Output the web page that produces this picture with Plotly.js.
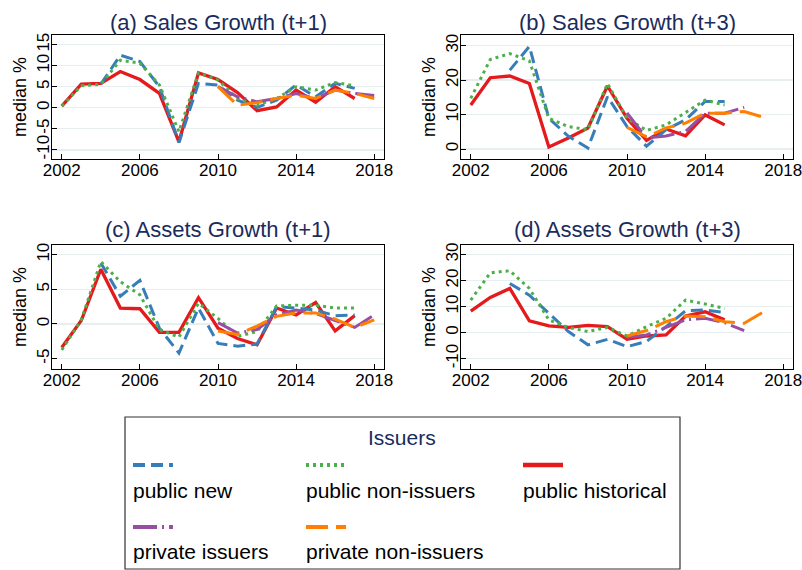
<!DOCTYPE html>
<html>
<head>
<meta charset="utf-8">
<script src="https://cdn.plot.ly/plotly-3.0.1.min.js"></script>
<style>html,body{margin:0;padding:0;background:#fff;}#chart{width:802px;height:570px;}</style>
</head>
<body>
<div id="chart"></div>
<script>
// ---------- DATA ----------
const years = [2002,2003,2004,2005,2006,2007,2008,2009,2010,2011,2012,2013,2014,2015,2016,2017,2018];

const seriesNames = ["public new","public non-issuers","public historical","private issuers","private non-issuers"];

// (a) Sales Growth (t+1)
const salesT1_publicNew       = [null,null,5.6,12.5,11.0,5.0,-8.3,5.8,5.4,1.8,0.1,1.8,5.4,2.6,5.8,4.6,null];
const salesT1_publicNonIss    = [0.4,5.2,5.6,11.3,10.6,5.4,-5.7,8.3,6.6,2.2,0.6,2.2,5.0,4.2,6.0,5.2,null];
const salesT1_publicHist      = [0.4,5.6,5.8,8.6,6.7,3.4,-8.1,8.3,6.7,3.6,-0.7,0.2,4.2,1.3,5.0,2.2,null];
const salesT1_privateIss      = [null,null,null,null,null,null,null,null,5.0,2.6,1.4,2.2,3.4,2.2,4.2,3.4,2.9];
const salesT1_privateNonIss   = [null,null,null,null,null,null,null,null,5.0,0.6,1.2,2.2,3.0,2.2,4.2,3.4,2.2];

// (b) Sales Growth (t+3)
const salesT3_publicNew       = [null,null,22.9,29.8,8.9,3.7,0.3,15.2,6.5,0.8,5.6,8.5,13.8,13.8,null,null,null];
const salesT3_publicNonIss    = [14.7,26.0,27.7,25.6,8.9,6.5,5.6,19.0,8.9,5.4,7.0,10.6,14.2,12.8,null,null,null];
const salesT3_publicHist      = [12.8,20.7,21.2,19.0,0.6,3.2,6.1,18.3,8.9,2.5,5.8,3.8,9.9,7.0,null,null,null];
const salesT3_privateIss      = [null,null,null,null,null,null,null,null,10.5,3.2,3.8,5.1,10.4,10.4,12.1,null,null];
const salesT3_privateNonIss   = [null,null,null,null,null,null,null,null,6.3,3.5,6.1,7.5,10.4,10.4,10.9,9.2,null];

// (c) Assets Growth (t+1)
const assetsT1_publicNew      = [null,null,8.8,4.0,6.3,-0.6,-4.2,2.3,-2.8,-3.2,-2.9,2.5,2.3,2.0,1.2,1.3,null];
const assetsT1_publicNonIss   = [-3.75,0.6,9.0,6.1,4.2,-0.8,-1.9,3.0,0.8,-1.8,-1.1,2.6,2.7,2.7,2.3,2.3,null];
const assetsT1_publicHist     = [-3.4,0.5,7.9,2.3,2.2,-1.2,-1.2,3.8,-0.6,-2.1,-3.0,2.3,1.3,3.1,-1.0,1.2,null];
const assetsT1_privateIss     = [null,null,null,null,null,null,null,null,0.2,-1.3,-0.8,1.3,2.0,1.5,0.5,-0.5,1.3];
const assetsT1_privateNonIss  = [null,null,null,null,null,null,null,null,-1.0,-1.5,-0.3,1.1,1.6,1.6,0.7,-0.5,0.6];

// (d) Assets Growth (t+3)
const assetsT3_publicNew      = [null,null,18.9,14.4,7.4,0.4,-4.7,-2.6,-5.4,-3.4,2.3,8.4,8.7,7.7,null,null,null];
const assetsT3_publicNonIss   = [12.5,23.0,23.8,17.0,4.9,2.0,0.4,2.0,-1.3,2.3,5.5,12.5,11.0,9.3,null,null,null];
const assetsT3_publicHist     = [8.3,13.5,17.0,4.5,2.6,2.0,2.8,2.3,-2.6,-1.3,-0.9,6.4,8.0,4.9,null,null,null];
const assetsT3_privateIss     = [null,null,null,null,null,null,null,null,-1.8,-0.9,2.0,4.9,5.5,3.8,0.8,null,null];
const assetsT3_privateNonIss  = [null,null,null,null,null,null,null,null,-1.3,0.8,4.2,6.4,6.1,4.2,3.6,8.0,null];

const panelTitles = ["(a) Sales Growth (t+1)","(b) Sales Growth (t+3)","(c) Assets Growth (t+1)","(d) Assets Growth (t+3)"];
const xTickVals = [2002,2006,2010,2014,2018];
const yTickVals = [[-10,-5,0,5,10,15],[0,10,20,30],[-5,0,5,10],[-10,0,10,20,30]];
const legendTitle = "Issuers";
const yAxisTitle = "median %";

// ---------- STYLE ----------
const W = 802, H = 570;
const colors = ["#377eb8","#4daf4a","#e41a1c","#984ea3","#ff7f00"];
const dashes = ["12px,6px","3px,4px","solid","24px,5px,2px,5px","22px,8px"];
const widths = [3,3,3.3,3,3];
const FONT = "Liberation Sans, Arial, Helvetica, sans-serif";
const NAVY = "#1a2b5c";

const panels = [
  [salesT1_publicNew,salesT1_publicNonIss,salesT1_publicHist,salesT1_privateIss,salesT1_privateNonIss],
  [salesT3_publicNew,salesT3_publicNonIss,salesT3_publicHist,salesT3_privateIss,salesT3_privateNonIss],
  [assetsT1_publicNew,assetsT1_publicNonIss,assetsT1_publicHist,assetsT1_privateIss,assetsT1_privateNonIss],
  [assetsT3_publicNew,assetsT3_publicNonIss,assetsT3_publicHist,assetsT3_privateIss,assetsT3_privateNonIss]
];
const yRanges = [[-12.2,17.3],[-2.9,33.1],[-6.5,11.4],[-14,33.7]];
const xDomains = [[52/W,384/W],[461/W,793/W],[52/W,384/W],[461/W,793/W]];
const yDomains = [[1-159/H,1-35/H],[1-159/H,1-35/H],[1-369/H,1-245/H],[1-369/H,1-245/H]];

const px = v => v / W;
const py = v => 1 - v / H;

const traces = [];
panels.forEach((series, p) => {
  const ax = p === 0 ? "" : String(p + 1);
  [2,0,1,3,4].forEach(s => {
    traces.push({
      type: "scatter", mode: "lines",
      x: years, y: series[s],
      name: seriesNames[s], showlegend: false,
      xaxis: "x" + ax, yaxis: "y" + ax,
      line: {color: colors[s], width: widths[s], dash: dashes[s]},
      connectgaps: false, hoverinfo: "skip"
    });
  });
});

const layout = {
  width: W, height: H,
  margin: {l: 0, r: 0, t: 0, b: 0},
  paper_bgcolor: "#fff", plot_bgcolor: "#fff",
  font: {family: FONT, color: "#000", size: 16},
  showlegend: false,
  annotations: [], shapes: []
};

for (let p = 0; p < 4; p++) {
  const ax = p === 0 ? "" : String(p + 1);
  layout["xaxis" + ax] = {
    domain: xDomains[p], range: [2001.5, 2018.5], anchor: "y" + ax,
    tickvals: xTickVals, ticktext: xTickVals.map(String),
    showgrid: false, zeroline: false,
    showline: true, linecolor: "#000", linewidth: 1.3, mirror: true,
    ticks: "inside", ticklen: 5, tickcolor: "#000", tickwidth: 1,
    ticklabeloverflow: "allow", ticklabelstandoff: -5,
    tickfont: {size: 17, family: FONT, color: "#000"}
  };
  layout["yaxis" + ax] = {
    domain: yDomains[p], range: yRanges[p], anchor: "x" + ax,
    tickvals: yTickVals[p], ticktext: yTickVals[p].map(String),
    tickangle: -90,
    showgrid: true, gridcolor: "#e6eef0", gridwidth: 1.5,
    zeroline: false,
    showline: true, linecolor: "#000", linewidth: 1.3, mirror: true,
    ticks: "inside", ticklen: 5, tickcolor: "#000", tickwidth: 1,
    ticklabeloverflow: "allow", ticklabelstandoff: -5,
    tickfont: {size: 17, family: FONT, color: "#000"},
    title: {text: yAxisTitle, font: {size: 18, family: FONT, color: "#000"}, standoff: 2}
  };
  layout.annotations.push({
    text: panelTitles[p], xref: "paper", yref: "paper",
    x: (xDomains[p][0] + xDomains[p][1]) / 2,
    y: p < 2 ? py(22) : py(230),
    xanchor: "center", yanchor: "middle", showarrow: false,
    font: {size: 22, family: FONT, color: NAVY}
  });
}

// ---------- LEGEND (drawn as layout shapes/annotations) ----------
layout.shapes.push({
  type: "rect", xref: "paper", yref: "paper",
  x0: px(125), x1: px(680), y0: py(569), y1: py(417),
  line: {color: "#333", width: 1.2}, fillcolor: "rgba(0,0,0,0)"
});
layout.annotations.push({
  text: legendTitle, xref: "paper", yref: "paper",
  x: px(402), y: py(437), xanchor: "center", yanchor: "middle",
  showarrow: false, font: {size: 21, family: FONT, color: NAVY}
});
const legCols = [133, 306, 523];
const legRows = [[465, 490], [527, 551]];
seriesNames.forEach((name, i) => {
  const col = legCols[i % 3];
  const row = legRows[Math.floor(i / 3)];
  layout.shapes.push({
    type: "line", xref: "paper", yref: "paper",
    x0: px(col), x1: px(col + 40), y0: py(row[0]), y1: py(row[0]),
    line: {color: colors[i], width: widths[i] + 1, dash: dashes[i]}
  });
  layout.annotations.push({
    text: name, xref: "paper", yref: "paper",
    x: px(col - 2), y: py(row[1]), xanchor: "left", yanchor: "middle",
    showarrow: false, font: {size: 21, family: FONT, color: "#000"}
  });
});

Plotly.newPlot("chart", traces, layout, {staticPlot: true, displayModeBar: false});
</script>
</body>
</html>
